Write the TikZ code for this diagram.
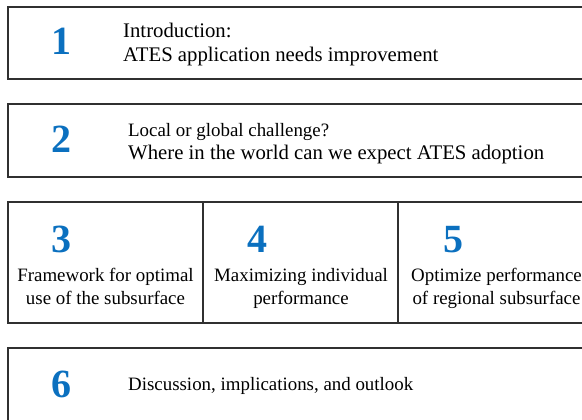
\documentclass[tikz,border=0pt]{standalone}
\usepackage{fontspec}
\setmainfont{Liberation Serif}
\definecolor{numblue}{HTML}{0B70BF}
\definecolor{edge}{HTML}{303030}
\begin{document}
\begin{tikzpicture}[x=1pt,y=-1pt,
  box/.style={draw=edge,line width=1.3pt},
  num/.style={font=\fontsize{40}{40}\selectfont\bfseries,text=numblue,inner sep=0pt,anchor=base},
  txt/.style={font=\fontsize{20.75}{24}\selectfont,inner sep=0pt,anchor=base west},
  stxt/.style={font=\fontsize{18.9}{22}\selectfont,inner sep=0pt,anchor=base west},
  ctxt/.style={font=\fontsize{18.9}{24}\selectfont,inner sep=0pt,anchor=base}]
\useasboundingbox (0,0) rectangle (582,420);
\begin{scope}
\clip (0,0) rectangle (582,420);
\draw[box] (8,7) rectangle (595,79);
\draw[box] (8,104) rectangle (595,177);
\draw[box] (8,202) rectangle (595,323);
\draw[box] (203,202) -- (203,323);
\draw[box] (398,202) -- (398,323);
\draw[box] (8,348) rectangle (595,440);
\end{scope}
\node[num] (n1) at (62,55) {1};
\node[txt] (t1a) at (123,38) {Introduction:};
\node[txt] (t1b) at (123,62) {ATES application needs improvement};
\node[num] (n2) at (62,153) {2};
\node[stxt] (t2a) at (128,136) {Local or global challenge?};
\node[txt] (t2b) at (128,160) {Where in the world can we expect ATES adoption};
\node[num] (n3) at (62,252) {3};
\node[ctxt] (t3a) at (105.5,281) {Framework for optimal};
\node[ctxt] (t3b) at (105.5,304) {use of the subsurface};
\node[num] (n4) at (257,252) {4};
\node[ctxt] (t4a) at (301,281) {Maximizing individual};
\node[ctxt] (t4b) at (301,304) {performance};
\node[num] (n5) at (453,252) {5};
\node[ctxt] (t5a) at (496.5,281) {Optimize performance};
\node[ctxt] (t5b) at (496.5,304) {of regional subsurface};
\node[num] (n6) at (62,397) {6};
\node[stxt] (t6) at (128,390) {Discussion, implications, and outlook};
\end{tikzpicture}
\end{document}
